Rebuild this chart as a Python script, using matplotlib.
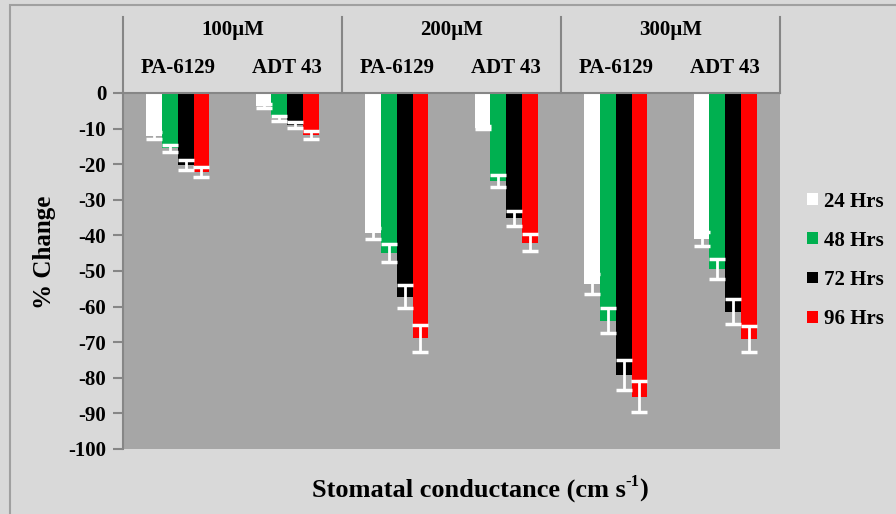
import numpy as np
import matplotlib
matplotlib.use('Agg')
import matplotlib.pyplot as plt
from matplotlib.patches import Rectangle

# data
concs = ['100µM', '200µM', '300µM']
strains = ['PA-6129', 'ADT 43']
hours = ['24 Hrs', '48 Hrs', '72 Hrs', '96 Hrs']
colors = ['#ffffff', '#00b050', '#000000', '#ff0000']

# rows: hours, cols: 100 PA, 100 ADT, 200 PA, 200 ADT, 300 PA, 300 ADT
vals = np.array([
    [-12.0, -3.7, -39.4, -9.7, -53.7, -41.0],
    [-15.5, -7.1, -45.0, -24.7, -64.0, -49.5],
    [-20.2, -9.0, -57.2, -35.2, -79.2, -61.4],
    [-22.3, -11.8, -68.9, -42.0, -85.3, -69.1],
])
errs = np.array([
    [1.0, 0.5, 1.5, 0.5, 2.9, 1.9],
    [1.0, 0.7, 2.6, 1.6, 3.5, 2.8],
    [1.3, 0.8, 3.2, 2.1, 4.3, 3.4],
    [1.4, 1.0, 3.8, 2.5, 4.4, 3.7],
])

W, H = 896, 514
plt.rcParams['font.family'] = ['Liberation Serif', 'DejaVu Serif']
plt.rcParams['font.weight'] = 'bold'
plt.rcParams['axes.unicode_minus'] = False

fig = plt.figure(figsize=(W / 100, H / 100), dpi=100, facecolor='#d9d9d9')
fig.patches.append(Rectangle((10 / W, -0.1), 1.2, (H - 5) / H + 0.1,
                             transform=fig.transFigure, fill=False,
                             edgecolor='#a0a0a0', lw=1.5))

x0, x1, ytop, ybot = 123, 780, 93, 449
ax = fig.add_axes([x0 / W, (H - ybot) / H, (x1 - x0) / W, (ybot - ytop) / H])
ax.set_facecolor('#a6a6a6')

x = np.arange(vals.shape[1])
bw = 0.144
for i in range(len(hours)):
    xi = x + (i - 1.5) * bw
    ax.bar(xi, vals[i], bw, color=colors[i], label=hours[i], zorder=2)
    ax.errorbar(xi, vals[i], yerr=errs[i], fmt='none', ecolor='white',
                elinewidth=2, capsize=5.5, capthick=2.5, zorder=3)

ax.set_xlim(-0.5, 5.5)
ax.set_ylim(-100, 0)
ax.set_yticks(np.arange(-100, 1, 10))
ax.set_xticks([])
for s in ['right', 'bottom']:
    ax.spines[s].set_visible(False)
for s in ['left', 'top']:
    ax.spines[s].set_color('#868686')
    ax.spines[s].set_linewidth(1.5)
ax.tick_params(axis='y', length=7, width=1.5, color='#868686', labelsize=15, pad=5)
for t in ax.get_yticklabels():
    t.set_fontweight('bold')

# header with category labels
hh = ybot - ytop
for k in range(4):
    ax.plot([k / 3, k / 3], [1, (ybot - 17) / hh], color='#868686', lw=1.5,
            transform=ax.transAxes, clip_on=False)
for k, c in enumerate(concs):
    ax.text((k + 0.5) / 3, (ybot - 30) / hh, c, transform=ax.transAxes,
            ha='center', va='center', fontsize=15, fontweight='bold')
    for j, s in enumerate(strains):
        ax.text((2 * k + j + 0.5) / 6, (ybot - 68) / hh, s,
                transform=ax.transAxes, ha='center', va='center',
                fontsize=15, fontweight='bold')

fig.text(45 / W, 1 - 252 / H, '% Change', rotation=90, ha='center',
         va='center', fontsize=18, fontweight='bold')

# x label with a plain-hyphen superscript
fig.canvas.draw()
r = fig.canvas.get_renderer()
xl = 480
t1 = fig.text(0, 1 - 490 / H, 'Stomatal conductance (cm s', ha='left',
              va='center', fontsize=19, fontweight='bold')
t2 = fig.text(0, 1 - 482 / H, '-1', ha='left', va='center', fontsize=12,
              fontweight='bold')
t3 = fig.text(0, 1 - 490 / H, ')', ha='left', va='center', fontsize=19,
              fontweight='bold')
w1 = t1.get_window_extent(r).width
w2 = t2.get_window_extent(r).width
w3 = t3.get_window_extent(r).width
start = xl - (w1 + w2 + w3) / 2
t1.set_x(start / W)
t2.set_x((start + w1) / W)
t3.set_x((start + w1 + w2) / W)

leg = ax.legend(loc='center left', bbox_to_anchor=(1.0, 0.53), frameon=False,
                prop={'size': 15, 'weight': 'bold'}, handlelength=0.5,
                handleheight=0.5, handletextpad=0.3, labelspacing=0.92,
                borderaxespad=0.9)

plt.savefig('out.png', dpi=100, facecolor=fig.get_facecolor())
